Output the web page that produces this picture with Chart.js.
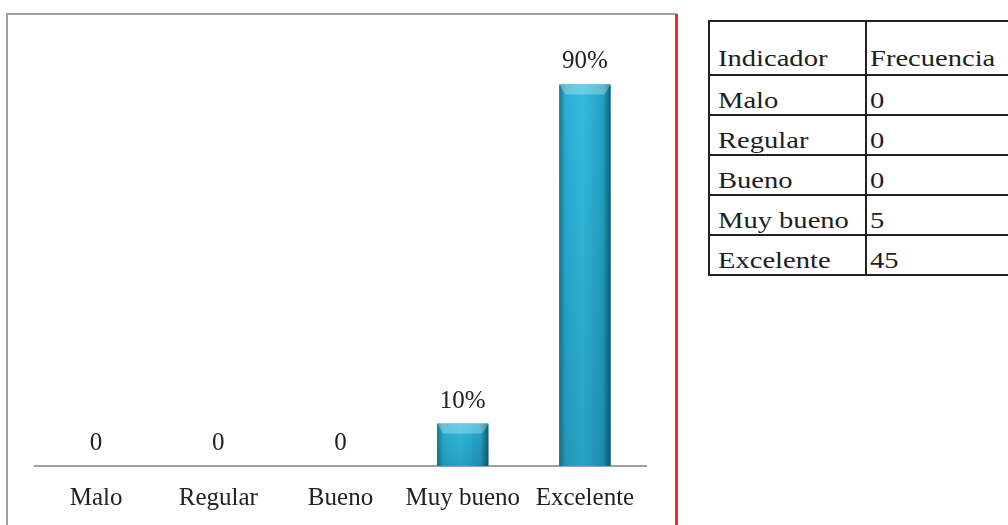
<!DOCTYPE html>
<html>
<head>
<meta charset="utf-8">
<script src="https://cdn.jsdelivr.net/npm/chart.js@4.4.1/dist/chart.umd.min.js"></script>
<style>
  html, body { margin: 0; padding: 0; background: #fff; overflow: hidden; }
  body { width: 1008px; height: 525px; position: relative; font-family: "Liberation Serif", "Times New Roman", serif; }
  #frame { position: absolute; left: 6px; top: 13px; width: 667px; height: 600px; border: 2px solid #a0a0a0; border-bottom: none; }
  #redline { position: absolute; left: 675px; top: 14px; width: 3px; height: 520px; background: #ee2a2a; }
  #wrap { position: absolute; left: 0; top: 0; width: 676px; height: 530px; }
  table { position: absolute; left: 708px; top: 20px; width: 340px; table-layout: fixed; border-collapse: collapse; color: #1e1e1e; font-size: 24px; }
  td { border: 2px solid #222; padding: 0 0 0 8px; height: 38px; vertical-align: bottom; line-height: 28px; white-space: nowrap; overflow: visible; }
  td.v { padding-left: 3px; }
  tr.head td { height: 50px; padding-bottom: 2px; }
  td span { display: inline-block; transform: scaleX(1.19); transform-origin: left center; }
</style>
</head>
<body>
<div id="frame"></div>
<div id="redline"></div>
<div id="wrap"><canvas id="chart"></canvas></div>
<table id="tbl"><colgroup><col style="width:157px"><col style="width:183px"></colgroup><tbody id="tb"></tbody></table>
<script>
// categorias y valores (porcentaje)
const categorias = ['Malo', 'Regular', 'Bueno', 'Muy bueno', 'Excelente'];
const porcentajes = [0, 0, 0, 10, 90];
// tabla de frecuencias
const tablaCabecera = ['Indicador', 'Frecuencia'];
const frecuencias = [0, 0, 0, 5, 45];

// tabla
let html = '<tr class="head"><td class="k"><span>' + tablaCabecera[0] + '</span></td><td class="v"><span>' + tablaCabecera[1] + '</span></td></tr>';
categorias.forEach((c, i) => {
  html += '<tr><td class="k"><span>' + c + '</span></td><td class="v"><span>' + frecuencias[i] + '</span></td></tr>';
});
document.getElementById('tb').innerHTML = html;

// brillo de las barras
const barShine = {
  id: 'barShine',
  afterDatasetsDraw(chart) {
    const ctx = chart.ctx;
    chart.getDatasetMeta(0).data.forEach(bar => {
      const h = bar.base - bar.y;
      if (h < 1) return;
      const l = bar.x - bar.width / 2, r = bar.x + bar.width / 2;
      const g = ctx.createLinearGradient(l, 0, r, 0);
      g.addColorStop(0, '#167a94');
      g.addColorStop(0.12, '#2aaed2');
      g.addColorStop(0.45, '#31bde2');
      g.addColorStop(0.85, '#24a2c4');
      g.addColorStop(1, '#0f5f75');
      ctx.save();
      ctx.fillStyle = g;
      ctx.fillRect(l, bar.y, bar.width, h);
      // oscurecer hacia abajo
      const gv = ctx.createLinearGradient(0, bar.y, 0, bar.base);
      gv.addColorStop(0, 'rgba(0,40,60,0)');
      gv.addColorStop(1, 'rgba(0,40,60,0.18)');
      ctx.fillStyle = gv;
      ctx.fillRect(l, bar.y, bar.width, h);
      // bisel superior
      const bev = Math.min(10, h / 3);
      ctx.fillStyle = 'rgba(255,255,255,0.28)';
      ctx.beginPath();
      ctx.moveTo(l, bar.y);
      ctx.lineTo(r, bar.y);
      ctx.lineTo(r - 6, bar.y + bev);
      ctx.lineTo(l + 6, bar.y + bev);
      ctx.closePath();
      ctx.fill();
      ctx.restore();
    });
  }
};

// etiquetas de datos
const dataLabels = {
  id: 'dataLabels',
  afterDatasetsDraw(chart) {
    const ctx = chart.ctx;
    ctx.save();
    ctx.font = '25px "Liberation Serif"';
    ctx.fillStyle = '#222';
    ctx.textAlign = 'center';
    ctx.textBaseline = 'alphabetic';
    chart.getDatasetMeta(0).data.forEach((bar, i) => {
      const v = porcentajes[i];
      ctx.fillText(v === 0 ? '0' : v + '%', bar.x, bar.y - 16);
    });
    ctx.restore();
  }
};

new Chart(document.getElementById('chart'), {
  type: 'bar',
  data: {
    labels: categorias,
    datasets: [{
      data: porcentajes,
      backgroundColor: '#2bb0d4',
      barPercentage: 0.6,
      categoryPercentage: 0.7
    }]
  },
  options: {
    responsive: true,
    maintainAspectRatio: false,
    animation: false,
    layout: { padding: { left: 35, right: 30, top: 42, bottom: 0 } },
    plugins: { legend: { display: false }, tooltip: { enabled: false } },
    scales: {
      x: {
        grid: { display: false, drawTicks: false },
        border: { display: true, color: '#a0a0a0', width: 2 },
        ticks: { color: '#222', padding: 17, font: { family: 'Liberation Serif', size: 25 } }
      },
      y: { display: false, min: 0, max: 100 }
    }
  },
  plugins: [barShine, dataLabels]
});
</script>
</body>
</html>
